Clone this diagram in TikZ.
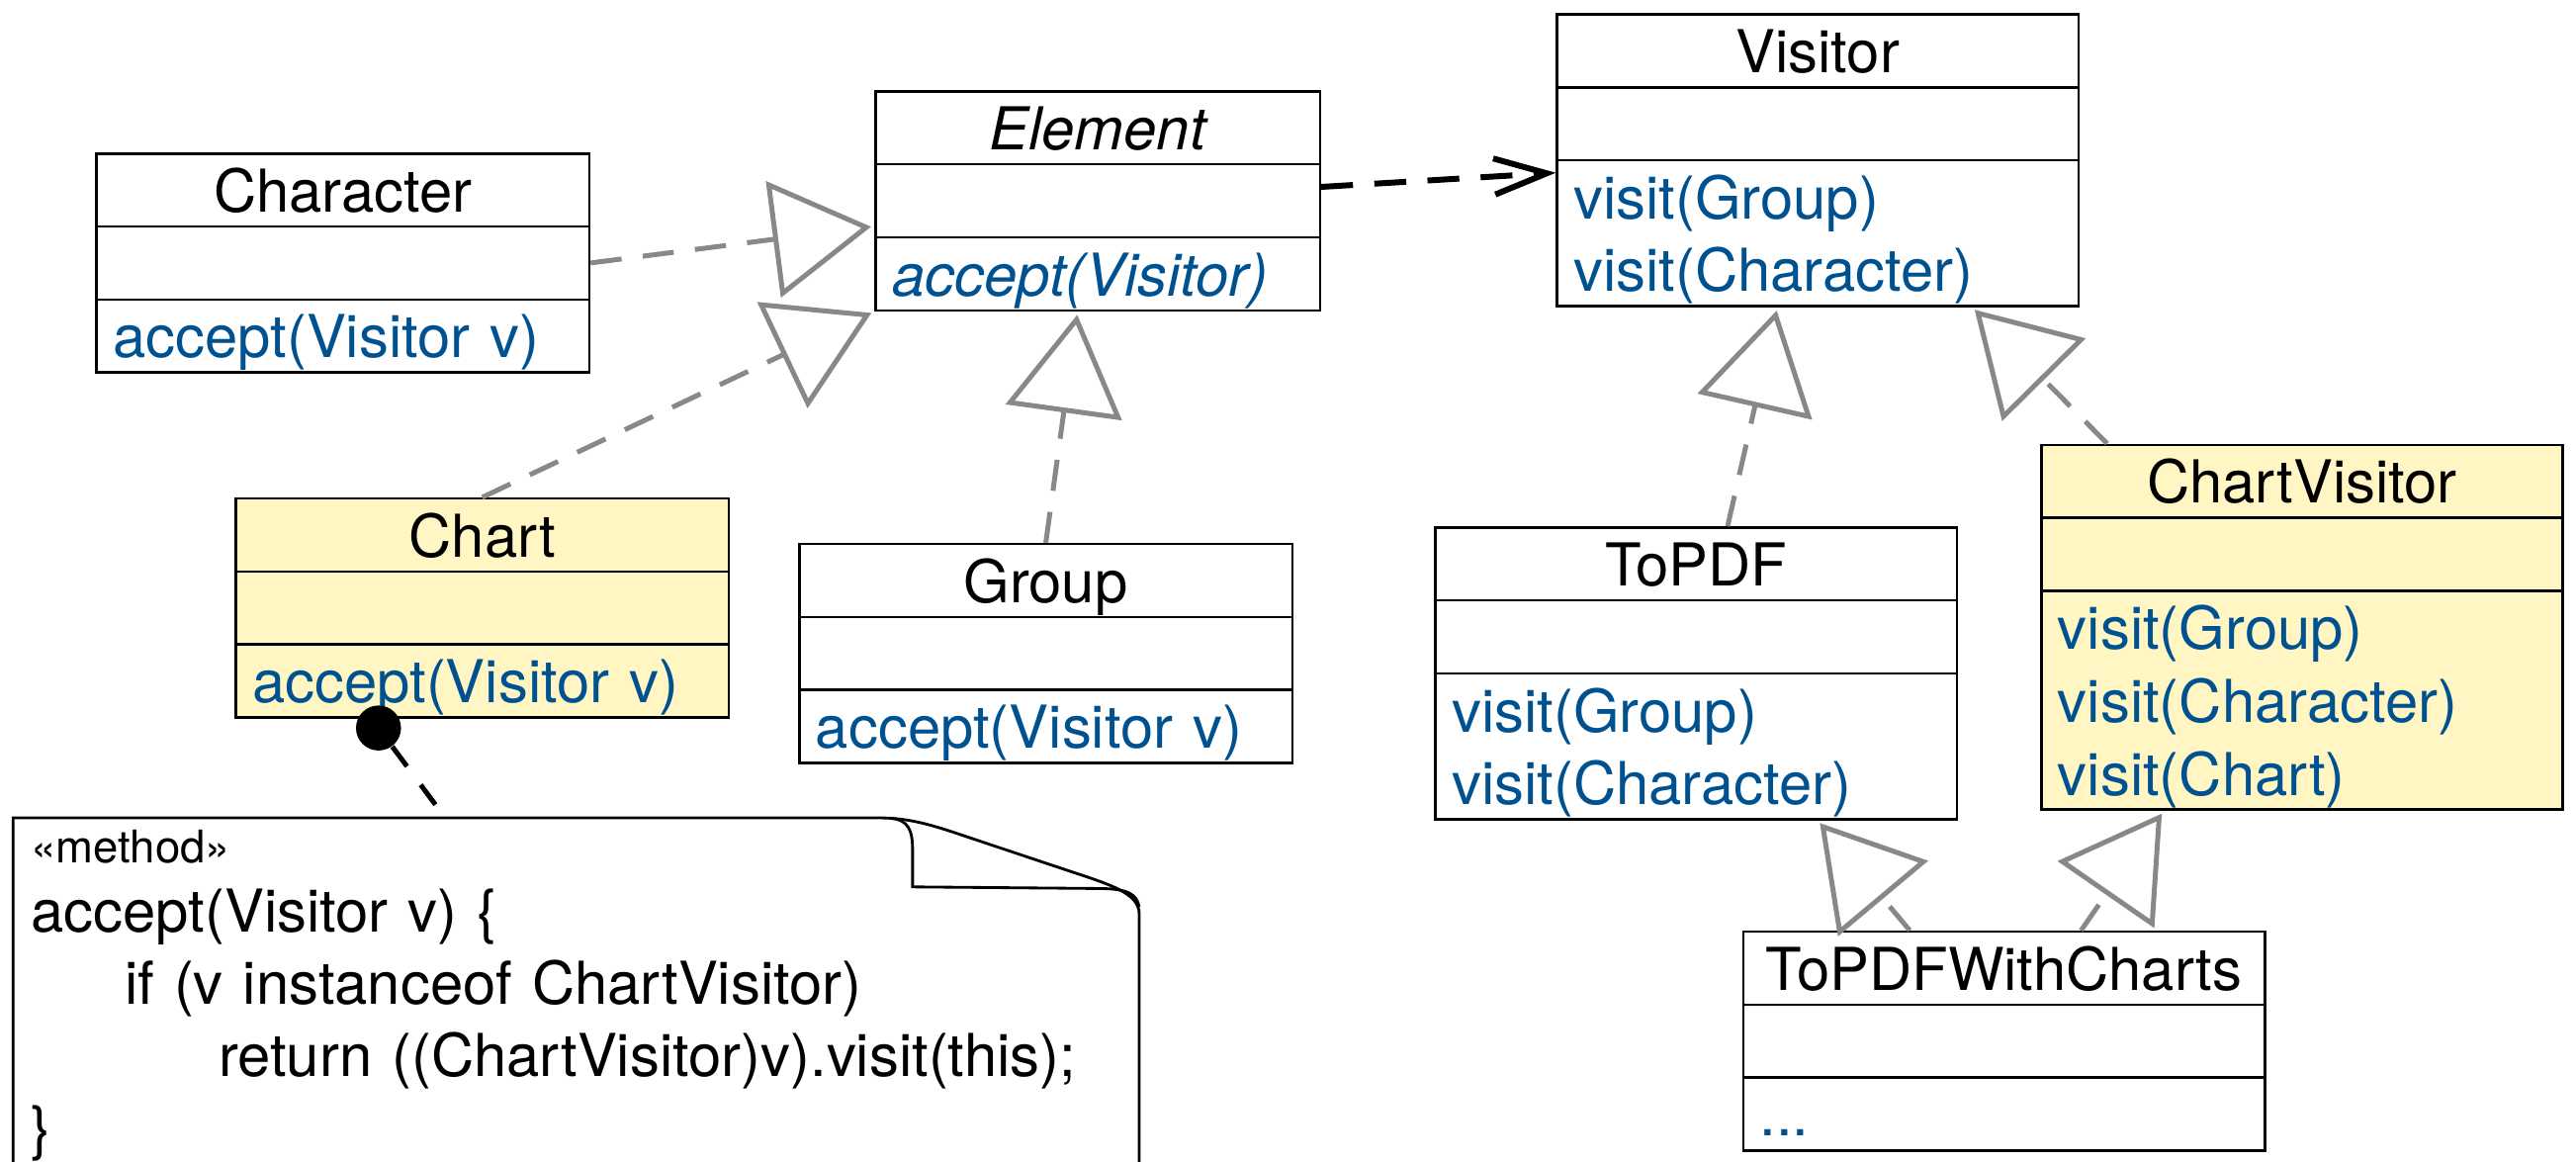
\documentclass[tikz,border=0pt]{standalone}
\usepackage{fontspec}
\setmainfont{TeX Gyre Heros}
\usetikzlibrary{shapes.multipart,arrows.meta,calc}

\definecolor{opblue}{HTML}{00518F}
\definecolor{chartyellow}{HTML}{FFF6C4}
\definecolor{linegray}{HTML}{888888}

\newcommand{\rowstrut}{\rule[-4.025pt]{0pt}{21.45pt}}
\newcommand{\classname}[1]{\rowstrut\hfill#1\hfill\null}

\begin{document}
\begin{tikzpicture}[x=0.5pt,y=-0.5pt,
	umlclass/.style={rectangle split, rectangle split parts=3, draw, line width=0.75pt,
		anchor=north west, inner xsep=5pt, inner ysep=0pt, align=left,
		font=\fontsize{18}{22.2}\selectfont},
	narrowclass/.style={umlclass, text width=125.25pt},
	midclass/.style={umlclass, text width=140pt},
	wideclass/.style={umlclass, text width=148.7pt},
	chartfill/.style={fill=chartyellow},
	realization/.style={draw=linegray, line width=1.5pt, dash pattern=on 9.5pt off 6.5pt,
		-{Triangle[open,length=30pt,width=35.5pt]}, shorten >=1pt},
	dependency/.style={line width=1.8pt, dash pattern=on 9.7pt off 6.5pt,
		-{Straight Barb[length=16pt,width=11pt]}},
	notelink/.style={line width=1.5pt, dash pattern=on 7.5pt off 7pt},
	notetext/.style={anchor=north west, inner sep=0pt, text width=330pt, align=left,
		font=\fontsize{18}{22}\selectfont},
	]
		\useasboundingbox (0,0) rectangle (1568,706.7);
		
		% element side
		\node[midclass] (character) at (58,92.7) {\classname{Character}
			\nodepart{second}\rowstrut
			\nodepart{third}\rowstrut\color{opblue}accept(Visitor v)};
		\node[narrowclass] (element) at (532.2,54.9) {\classname{\itshape Element}
			\nodepart{second}\rowstrut
			\nodepart{third}\rowstrut\color{opblue}\itshape accept(Visitor)};
		\node[midclass,chartfill] (chart) at (142.8,302.7) {\classname{Chart}
			\nodepart{second}\rowstrut
			\nodepart{third}\rowstrut\color{opblue}accept(Visitor v)};
		\node[midclass] (group) at (485.8,330.4) {\classname{Group}
			\nodepart{second}\rowstrut
			\nodepart{third}\rowstrut\color{opblue}accept(Visitor v)};
		
		% visitor side
		\node[wideclass] (visitor) at (947,8) {\classname{Visitor}
			\nodepart{second}\rowstrut
			\nodepart{third}\rowstrut\color{opblue}visit(Group)\\\rowstrut visit(Character)};
		\node[wideclass] (topdf) at (873,320.3) {\classname{ToPDF}
			\nodepart{second}\rowstrut
			\nodepart{third}\rowstrut\color{opblue}visit(Group)\\\rowstrut visit(Character)};
		\node[wideclass,chartfill] (chartvisitor) at (1241.8,270) {\classname{ChartVisitor}
			\nodepart{second}\rowstrut
			\nodepart{third}\rowstrut\color{opblue}visit(Group)\\\rowstrut visit(Character)\\\rowstrut visit(Chart)};
		\node[wideclass] (topdfcharts) at (1060.4,566.3) {\classname{ToPDFWithCharts}
			\nodepart{second}\rowstrut
			\nodepart{third}\rowstrut\color{opblue}...};
		
		\draw[realization] (character.east) -- ($(element.north west)!0.615!(element.south west)$);
		\draw[realization] (chart.north) -- (element.south west);
		\draw[realization] (group.north) -- ($(element.south west)!0.455!(element.south east)$);
		\draw[dependency] ($(element.north east)!0.437!(element.south east)$) -- ($(visitor.north west)!0.5425!(visitor.south west)$);
		
		\draw[realization] ($(topdf.north west)!0.56!(topdf.north east)$) -- ($(visitor.south west)!0.423!(visitor.south east)$);
		\draw[realization] ($(chartvisitor.north west)!0.128!(chartvisitor.north east)$) -- ($(visitor.south west)!0.795!(visitor.south east)$);
		\draw[realization] ($(topdfcharts.north west)!0.32!(topdfcharts.north east)$) -- ($(topdf.south west)!0.732!(topdf.south east)$);
		\draw[realization] ($(topdfcharts.north west)!0.647!(topdfcharts.north east)$) -- ($(chartvisitor.south west)!0.236!(chartvisitor.south east)$);
		
		% the note with its folded corner
		\draw[line width=0.85pt] (8,720) -- (8,497.8) -- (535,497.8) .. controls (555,497.8) and (570,503) .. (590,509.8)
			-- (655,531.5) .. controls (676,538.5) and (693.4,544) .. (693.4,556) -- (693.4,720);
		\draw[line width=0.85pt] (541.8,498) .. controls (553,499) and (555.5,505) .. (555.5,518) -- (555.5,539.8)
			-- (670.3,540.8) .. controls (686,541) and (692,544) .. (693.4,552);
		\node[notetext] (note) at (18.4,497.8) {\rule{0pt}{13.6pt}{\fontsize{13.7}{16}\selectfont «method»}\\[-1pt]
			accept(Visitor v) \{\\
			\hspace*{28.6pt}if (v instanceof ChartVisitor)\\
			\hspace*{57.2pt}return ((ChartVisitor)v).visit(this);\\
			\}};
		
		\node[circle,fill=black,inner sep=0pt,minimum size=13.7pt] (dot) at (230.4,443.1) {};
		\coordinate (notepin) at (271,497.8);
		\draw[notelink] (dot) -- (notepin);
	\end{tikzpicture}
\end{document}
